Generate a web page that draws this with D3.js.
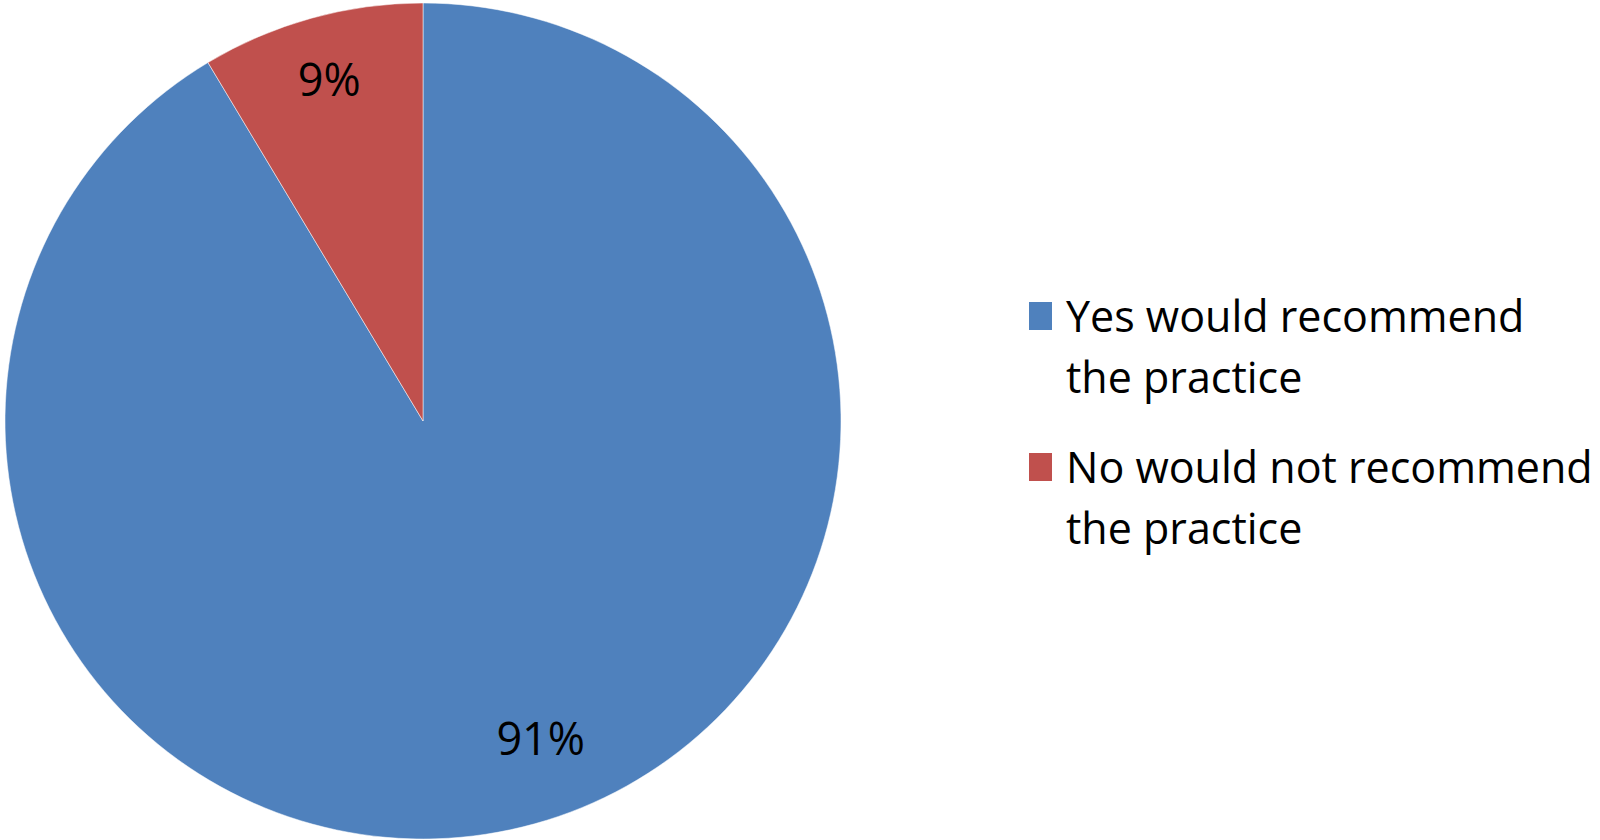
<!DOCTYPE html>
<html>
<head>
<meta charset="utf-8">
<script src="https://cdn.jsdelivr.net/npm/d3@7"></script>
<style>
  body { margin: 0; background: #fff; }
  svg { display: block; }
  text { font-family: "Open Sans", sans-serif; fill: #000; }
</style>
</head>
<body>
<div id="chart"></div>
<script>
// values (slice angles), labels as printed
const categories = ["Yes would recommend the practice", "No would not recommend the practice"];
const legendLines = [["Yes would recommend", "the practice"], ["No would not recommend", "the practice"]];
const values = [91.4, 8.6];
const pctLabels = ["91%", "9%"];
const colors = ["#4F81BD", "#C0504D"];

const width = 1600;
const height = 840;
const cx = 423, cy = 421, radius = 418;

const svg = d3.select("#chart")
	.append("svg")
		.attr("width", width)
		.attr("height", height);

const data = categories.map((c, i) => ({ name: c, value: values[i], label: pctLabels[i], lines: legendLines[i] }));

// first slice starts at 12 o'clock going clockwise, like Excel
const pie = d3.pie()
	.sort(null)
	.value((d) => d.value);

const arc = d3.arc().innerRadius(0).outerRadius(radius);
const labelArc = d3.arc().innerRadius(radius * 0.84).outerRadius(radius * 0.84);

const color = d3.scaleOrdinal()
	.domain(categories)
	.range(colors);

const g = svg.append("g").attr("transform", `translate(${cx},${cy})`);

const slices = g.selectAll("g.slice")
	.data(pie(data)).enter()
	.append("g")
		.attr("class", "slice");

slices.append("path")
	.attr("d", arc)
	.attr("fill", (d) => color(d.data.name))
	.attr("stroke", "#fff")
	.attr("stroke-opacity", 0.5)
	.attr("stroke-width", 1);

slices.append("text")
	.attr("transform", (d) => {
		const [x, y] = labelArc.centroid(d);
		// excel nudges the big slice's label a little to the right
		return `translate(${d.index === 0 ? x + 24 : x},${d.index === 0 ? y - 20 : y - 2})`;
	})
	.attr("text-anchor", "middle")
	.attr("dy", "0.35em")
	.attr("font-size", 45)
	.text((d) => d.data.label);

// legend
const legend = svg.append("g").attr("transform", "translate(1029,302)");

const items = legend.selectAll("g.item")
	.data(data).enter()
	.append("g")
		.attr("class", "item")
		.attr("transform", (d, i) => `translate(0,${i * 151})`);

items.append("rect")
	.attr("width", 23)
	.attr("height", 28)
	.attr("fill", (d) => color(d.name));

items.append("text")
	.attr("font-size", 43)
	.selectAll("tspan")
		.data((d) => d.lines).enter()
	.append("tspan")
		.attr("x", 37)
		.attr("y", (d, i) => 30 + i * 61)
		.text((d) => d);
</script>
</body>
</html>
